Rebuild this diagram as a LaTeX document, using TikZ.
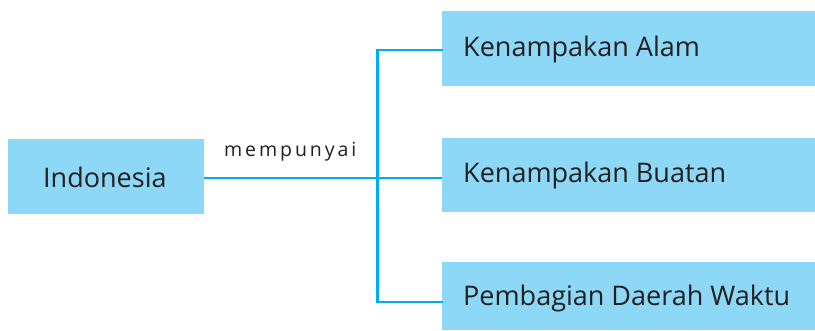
\documentclass[tikz,border=0pt]{standalone}
\usepackage{fontspec}
\setmainfont{Open Sans}
\definecolor{boxblue}{RGB}{142,216,247}
\definecolor{lineblue}{RGB}{0,174,239}
\definecolor{txt}{RGB}{35,31,32}
\begin{document}
\begin{tikzpicture}[x=1pt,y=-1pt,
  box/.style={fill=boxblue,draw=none,inner sep=0pt,anchor=north west},
  lbl/.style={text=txt,font=\fontsize{27}{30}\selectfont,anchor=west,inner sep=0pt},
  conn/.style={draw=lineblue,line width=2.2pt}]
\useasboundingbox (0,0) rectangle (815,330);
\fill[white] (0,0) rectangle (815,330);
\node[box,minimum width=196pt,minimum height=75pt] (indo) at (8,139) {};
\node[box,minimum width=373pt,minimum height=75pt] (alam) at (442,11) {};
\node[box,minimum width=373pt,minimum height=74pt] (buatan) at (442,138) {};
\node[box,minimum width=373pt,minimum height=68pt] (waktu) at (442,262) {};
\node[lbl] (tindo) at (43,177) {Indonesia};
\node[lbl] (talam) at (463,49) {Kenampakan Alam};
\node[lbl] (tbuatan) at (463,175) {Kenampakan Buatan};
\node[lbl] (twaktu) at (463,298) {Pembagian Daerah Waktu};
\node[text=txt,font=\fontsize{19.5}{22}\selectfont,anchor=west,inner sep=0pt] (mem) at (224,152) {\addfontfeature{LetterSpace=15}mempunyai};
\coordinate (j) at (377.5,178);
\coordinate (jt) at (377.5,50);
\coordinate (jb) at (377.5,302);
\draw[conn] (indo.east |- j) -- (j);
\draw[conn] (buatan.west |- j) -- (j);
\draw[conn,line cap=rect] (alam.west |- jt) -- (jt) -- (jb) -- (waktu.west |- jb);
\end{tikzpicture}
\end{document}
